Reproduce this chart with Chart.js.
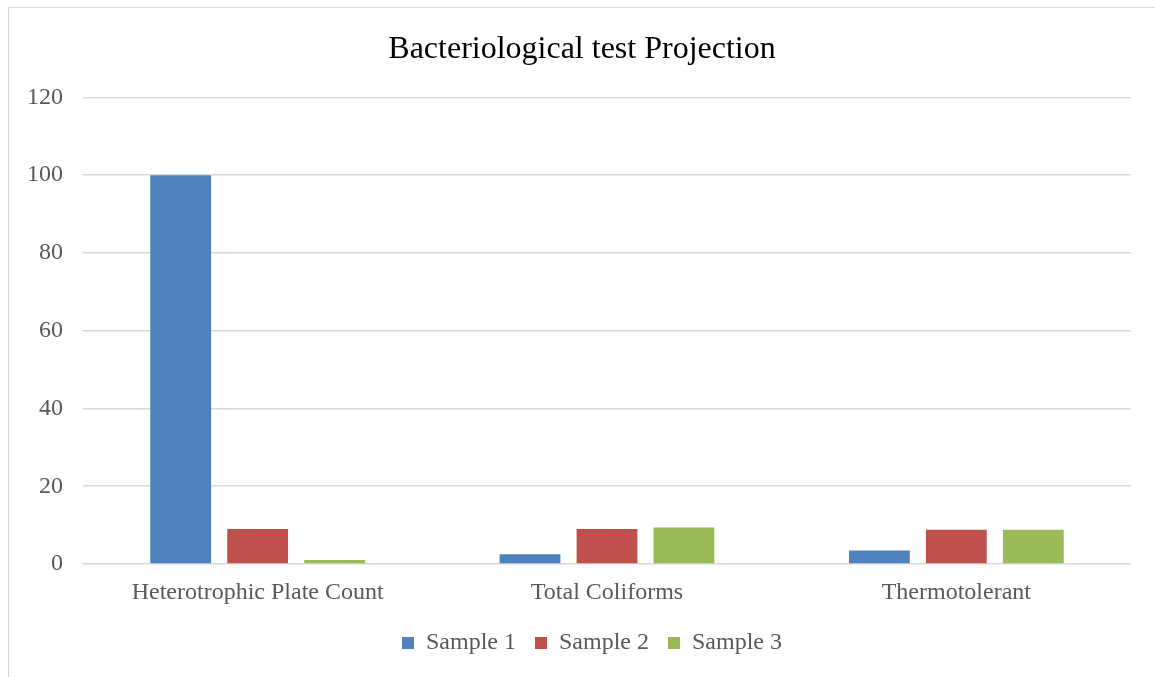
<!DOCTYPE html>
<html>
<head>
<meta charset="utf-8">
<script src="https://cdn.jsdelivr.net/npm/chart.js@4.4.1/dist/chart.umd.min.js"></script>
<style>
  html, body { margin: 0; padding: 0; background: #fff; }
  #frame {
    position: absolute; left: 8px; top: 7px;
    width: 1147px; height: 670px;
    border-left: 1px solid #d9d9d9; border-top: 1px solid #d9d9d9;
  }
  #chart { display: block; }
</style>
</head>
<body>
<div id="frame"><canvas id="chart" width="1146" height="669"></canvas></div>
<script>
  const categories = ["Heterotrophic Plate Count", "Total Coliforms", "Thermotolerant"];
  const sample1 = [100, 2.5, 3.5];
  const sample2 = [9, 9, 8.8];
  const sample3 = [1, 9.4, 8.8];
  const yTicks = [0, 20, 40, 60, 80, 100, 120];

  const serif = "'Liberation Serif', 'Times New Roman', serif";
  const grey = "#595959";

  // title and legend are centred on the whole frame, not on the plot box
  const centerOnFrame = {
    id: "centerOnFrame",
    afterLayout(chart) {
      if (chart.titleBlock) {
        chart.titleBlock.left += 12;
        chart.titleBlock.right += 12;
      }
      if (chart.legend) {
        chart.legend.left += 22;
        chart.legend.right += 22;
      }
    }
  };

  new Chart(document.getElementById("chart"), {
    type: "bar",
    data: {
      labels: categories,
      datasets: [
        { label: "Sample 1", data: sample1, backgroundColor: "#4F81BD" },
        { label: "Sample 2", data: sample2, backgroundColor: "#C0504D" },
        { label: "Sample 3", data: sample3, backgroundColor: "#9BBB59" }
      ]
    },
    options: {
      responsive: false,
      animation: false,
      categoryPercentage: 0.661,
      barPercentage: 0.79,
      layout: { padding: { left: 0, right: 24, top: 0, bottom: 12 } },
      scales: {
        x: {
          afterFit: scale => { scale.height = 48; },
          grid: { display: false, drawTicks: false },
          border: { display: false },
          ticks: { color: grey, font: { family: serif, size: 24 }, padding: 14 }
        },
        y: {
          min: 0,
          max: 120,
          afterBuildTicks: scale => { scale.ticks = yTicks.map(v => ({ value: v })); },
          afterFit: scale => { scale.width = 74; },
          grid: { color: "#d9d9d9", lineWidth: 1.5, drawTicks: false },
          border: { display: false },
          ticks: { color: grey, font: { family: serif, size: 24 }, padding: 20 }
        }
      },
      plugins: {
        title: {
          display: true,
          text: "Bacteriological test Projection",
          color: "#000",
          font: { family: serif, size: 32, weight: "normal" },
          padding: { top: 22, bottom: 29 }
        },
        legend: {
          position: "bottom",
          labels: {
            color: grey,
            font: { family: serif, size: 24 },
            boxWidth: 12,
            boxHeight: 12,
            padding: 19
          }
        },
        tooltip: { enabled: false }
      }
    },
    plugins: [centerOnFrame]
  });
</script>
</body>
</html>
